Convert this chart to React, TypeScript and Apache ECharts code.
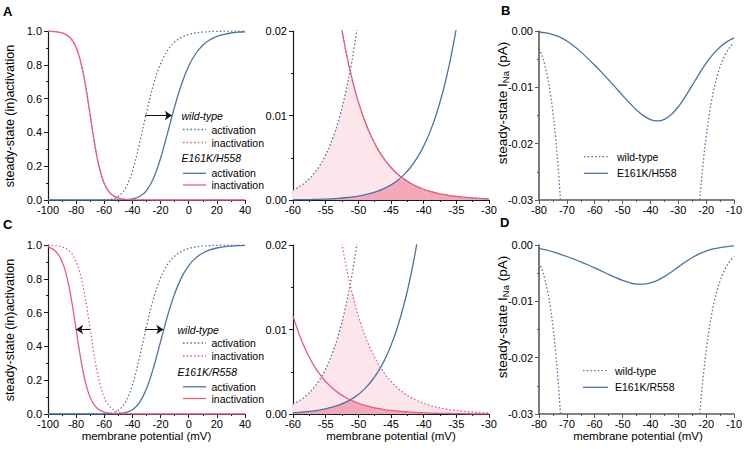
import React, { useEffect, useRef } from 'react';
import * as echarts from 'echarts';

// ---------- Left panels (A, C): steady-state (in)activation vs membrane potential ----------
const leftV = [-100, -95, -90, -85, -80, -75, -70, -65, -60, -55, -50, -45, -40, -35, -30, -25, -20, -15, -10, -5, 0, 5, 10, 15, 20, 25, 30, 35, 40];
const wtAct = [0, 0, 0, 0, 0.000001, 0.000007, 0.00004, 0.00023, 0.00115, 0.00534, 0.02124, 0.06852, 0.17193, 0.33385, 0.51924, 0.68389, 0.80573, 0.8857, 0.93452, 0.96305, 0.97934, 0.98851, 0.99363, 0.99647, 0.99804, 0.99892, 0.9994, 0.99967, 0.99982];
const h558Act = [0, 0, 0, 0, 0, 0, 0.000001, 0.000006, 0.000027, 0.00011, 0.00046, 0.00179, 0.00638, 0.02032, 0.05585, 0.12879, 0.24667, 0.39715, 0.55245, 0.6882, 0.79282, 0.8668, 0.91621, 0.94802, 0.96803, 0.98045, 0.98808, 0.99274, 0.99559];
const r558Act = [0, 0, 0, 0, 0, 0.000002, 0.000008, 0.000036, 0.00015, 0.00061, 0.00232, 0.00812, 0.0252, 0.06699, 0.14885, 0.2749, 0.42864, 0.58175, 0.71172, 0.80992, 0.87842, 0.92377, 0.95281, 0.97101, 0.98228, 0.98921, 0.99344, 0.99601, 0.99758];

const inactV = [-100, -97.5, -95, -92.5, -90, -87.5, -85, -82.5, -80, -77.5, -75, -72.5, -70, -67.5, -65, -62.5, -60, -57.5, -55, -52.5, -50, -47.5, -45, -42.5, -40, -20, 0, 20, 40];
const wtInact = [0.99873, 0.99779, 0.99615, 0.99331, 0.98839, 0.97994, 0.96555, 0.94146, 0.90224, 0.84112, 0.75234, 0.63542, 0.5, 0.36458, 0.24766, 0.15888, 0.09777, 0.05854, 0.03445, 0.02006, 0.01161, 0.00669, 0.00385, 0.00221, 0.00127, 0.00001, 0, 0, 0];
const r558Inact = [0.98839, 0.97994, 0.96555, 0.94146, 0.90224, 0.84112, 0.75234, 0.63542, 0.5, 0.36458, 0.24766, 0.15888, 0.09777, 0.05854, 0.03445, 0.02006, 0.01161, 0.00669, 0.00385, 0.00221, 0.00127, 0.00073, 0.00042, 0.00024, 0.00014, 0, 0, 0, 0];

// shift arrows at half (in)activation
const halfLevel = 0.5;
const arrowA = [-31, -12];
const arrowCAct = [-31, -18];
const arrowCInact = [-70, -80];

// ---------- Middle panels: window region zoom ----------
const midV = [-60, -59, -58, -57, -56, -55, -54, -53, -52, -51, -50, -49, -48, -47, -46, -45, -44, -43, -42, -41, -40, -39, -38, -37, -36, -35, -34, -33, -32, -31, -30];
const midWtAct = [0.0011524, 0.0015809, 0.0021593, 0.0029355, 0.00397, 0.0053391, 0.007137, 0.0094777, 0.012498, 0.016358, 0.02124, 0.027347, 0.034899, 0.044126, 0.05526, 0.06852, 0.0841, 0.10216, 0.1228, 0.14607, 0.17193, 0.20028, 0.23093, 0.26363, 0.29806, 0.33385, 0.37062, 0.40793, 0.44541, 0.48264, 0.51927];
const midH558Act = [0.000026694, 0.000035696, 0.000047686, 0.000063641, 0.000084829, 0.00011294, 0.00015014, 0.00019933, 0.00026416, 0.00034947, 0.00046143, 0.00060786, 0.00079899, 0.0010476, 0.0013697, 0.0017856, 0.0023204, 0.003005, 0.0038769, 0.0049823, 0.0063758, 0.0081218, 0.010296, 0.012986, 0.016292, 0.020321, 0.0252, 0.031053, 0.038021, 0.046244, 0.055852];
const midR558Act = [0.00015014, 0.00019933, 0.00026416, 0.00034947, 0.00046143, 0.00060786, 0.00079899, 0.0010476, 0.0013697, 0.0017856, 0.0023204, 0.003005, 0.0038769, 0.0049823, 0.0063758, 0.0081218, 0.010296, 0.012986, 0.016292, 0.020321, 0.0252, 0.031053, 0.038021, 0.046244, 0.055852, 0.066984, 0.079757, 0.094269, 0.110595, 0.128788, 0.148847];
const midWtInact = [0.097773, 0.079845, 0.064969, 0.052705, 0.042651, 0.034445, 0.027772, 0.022362, 0.017986, 0.014454, 0.011607, 0.0093159, 0.0074735, 0.0059933, 0.0048048, 0.003851, 0.003086, 0.0024726, 0.0019809, 0.0015868, 0.001271, 0.001018, 0.00081533, 0.00065295, 0.00052293, 0.00041878, 0.00033536, 0.00026855, 0.00021505, 0.0001722, 0.00013789];
const midR558Inact = [0.011607, 0.0093159, 0.0074735, 0.0059933, 0.0048048, 0.003851, 0.003086, 0.0024726, 0.0019809, 0.0015868, 0.001271, 0.001018, 0.00081533, 0.00065295, 0.00052293, 0.00041878, 0.00033536, 0.00026855, 0.00021505, 0.0001722, 0.00013789, 0.00011042, 0.00008842, 0.0000708, 0.0000567, 0.0000454, 0.00003635, 0.00002911, 0.00002331, 0.00001866, 0.00001495];

// ---------- Right panels (B, D): steady-state window current ----------
const curV = [-80, -77.5, -75, -72.5, -70, -67.5, -65, -62.5, -60, -57.5, -55, -52.5, -50, -47.5, -45, -42.5, -40, -37.5, -35, -32.5, -30, -27.5, -25, -22.5, -20, -17.5, -15, -12.5, -10];
const h558Current = [-0.000175, -0.000339, -0.000627, -0.001094, -0.001775, -0.002661, -0.003706, -0.004856, -0.006076, -0.007352, -0.008679, -0.010047, -0.011429, -0.012774, -0.014007, -0.015026, -0.015721, -0.015971, -0.015684, -0.01483, -0.013447, -0.011658, -0.009641, -0.007604, -0.005721, -0.004117, -0.002843, -0.00189, -0.001215];
const r558Current = [-0.000582, -0.000877, -0.001228, -0.001619, -0.002042, -0.002496, -0.002982, -0.003503, -0.004057, -0.004636, -0.005223, -0.005787, -0.006294, -0.006692, -0.006928, -0.006955, -0.006741, -0.006281, -0.005605, -0.004778, -0.003884, -0.003012, -0.00223, -0.001581, -0.001077, -0.000708, -0.000451, -0.00028, -0.00017];
const wtCurLeftV = [-80, -79, -78, -77, -76, -75, -74, -73, -72];
const wtCurLeft = [-0.003117, -0.004293, -0.005879, -0.007996, -0.010792, -0.014438, -0.01912, -0.025042, -0.032401];
const wtCurRightV = [-23, -22, -21, -20, -19, -18, -17, -16, -15, -14, -13, -12, -11, -10];
const wtCurRight = [-0.034595, -0.02827, -0.023022, -0.018689, -0.015127, -0.012213, -0.009836, -0.007905, -0.00634, -0.005076, -0.004058, -0.003239, -0.002582, -0.002055];

// ---------- Text ----------
const xTitle = 'membrane potential (mV)';
const yTitleLeft = 'steady-state (in)activation';
const legendWT = 'wild-type';
const mutantA = 'E161K/H558';
const mutantC = 'E161K/R558';
const panelLetters = ['A', 'B', 'C', 'D'];

const BLUE = '#4a73a6';
const RED = '#e0607d';
const FILL_LIGHT = '#fde5ec';
const FILL_DARK = '#f4a9ba';
const INK = '#000000';
const FONT = '"Liberation Sans", Arial, Helvetica, sans-serif';
const DOT = [1.5, 2.2];

const pairs = (xs: number[], ys: number[]) => xs.map((x, i) => [x, ys[i]]);
const clipPairs = (xs: number[], ys: number[], hi: number) => {
  const ok = (v: number | undefined) => v !== undefined && v <= hi;
  return xs.map((x, i) => [x, ys[i]]).filter((_, i) => ok(ys[i]) || ok(ys[i - 1]) || ok(ys[i + 1]));
};
const minPairs = (xs: number[], a: number[], b: number[]) => xs.map((x, i) => [x, Math.min(a[i], b[i])]);

function lineSeries(gi: number, data: number[][], color: string, dotted: boolean, extra: any = {}) {
  return {
    type: 'line',
    xAxisIndex: gi,
    yAxisIndex: gi,
    data,
    symbol: 'none',
    showSymbol: false,
    smooth: 0.35,
    clip: true,
    silent: true,
    lineStyle: { color, width: 1.3, type: dotted ? DOT : 'solid', cap: 'butt' },
    z: 3,
    ...extra,
  };
}

function areaSeries(gi: number, data: number[][], color: string, z: number) {
  return {
    type: 'line',
    xAxisIndex: gi,
    yAxisIndex: gi,
    data,
    symbol: 'none',
    showSymbol: false,
    smooth: 0.35,
    clip: true,
    silent: true,
    lineStyle: { width: 0, opacity: 0 },
    areaStyle: { color, opacity: 1 },
    z,
  };
}

function arrowMark(list: number[][]) {
  return {
    silent: true,
    symbol: ['none', 'arrow'],
    symbolSize: 7,
    label: { show: false },
    lineStyle: { color: '#111', width: 1, type: 'solid' },
    emphasis: { disabled: true },
    data: list.map(([a, b]) => [{ coord: [a, halfLevel] }, { coord: [b, halfLevel] }]),
  };
}

function xAxis(gi: number, min: number, max: number, interval: number, axisColor: string, axisWidth: number) {
  return {
    type: 'value',
    gridIndex: gi,
    min,
    max,
    interval,
    axisLine: { show: true, onZero: false, lineStyle: { color: axisColor, width: axisWidth } },
    axisTick: { show: true, inside: false, length: 4, lineStyle: { color: axisColor, width: 1 } },
    minorTick: { show: true, splitNumber: 2, length: 2, lineStyle: { color: axisColor, width: 1 } },
    splitLine: { show: false },
    minorSplitLine: { show: false },
    axisLabel: { color: INK, fontSize: 11, fontFamily: FONT, margin: 4, showMinLabel: true, showMaxLabel: true },
  };
}

function yAxis(gi: number, min: number, max: number, interval: number, digits: number, axisColor: string, axisWidth: number) {
  return {
    type: 'value',
    gridIndex: gi,
    min,
    max,
    interval,
    axisLine: { show: true, onZero: false, lineStyle: { color: axisColor, width: axisWidth } },
    axisTick: { show: true, inside: false, length: 4, lineStyle: { color: axisColor, width: 1 } },
    minorTick: { show: true, splitNumber: 2, length: 2, lineStyle: { color: axisColor, width: 1 } },
    splitLine: { show: false },
    minorSplitLine: { show: false },
    axisLabel: {
      color: INK,
      fontSize: 11,
      fontFamily: FONT,
      margin: 6,
      formatter: (v: number) => (Math.abs(v) < 1e-12 ? 0 : v).toFixed(digits),
    },
  };
}

function legendBlock(x: number, y0: number, title: string, dy: number[]) {
  const t = (text: string, tx: number, ty: number, italic = false) => ({
    type: 'text',
    x: tx,
    y: ty,
    silent: true,
    style: { text, fontSize: 10.5, fontFamily: FONT, fontStyle: italic ? 'italic' : 'normal', fill: INK, align: 'left', verticalAlign: 'middle' },
  });
  const l = (ly: number, color: string, dotted: boolean) => ({
    type: 'line',
    silent: true,
    shape: { x1: 183, y1: ly, x2: 206, y2: ly },
    style: { stroke: color, lineWidth: 1.3, lineDash: dotted ? DOT : null },
  });
  return [
    t(legendWT, x, y0 + dy[0], true),
    l(y0 + dy[1], BLUE, true),
    t('activation', 211.5, y0 + dy[1]),
    l(y0 + dy[2], RED, true),
    t('inactivation', 211.5, y0 + dy[2]),
    t(title, x, y0 + dy[3], true),
    l(y0 + dy[4], BLUE, false),
    t('activation', 211.5, y0 + dy[4]),
    l(y0 + dy[5], RED, false),
    t('inactivation', 211.5, y0 + dy[5]),
  ];
}

function currentLegend(x1: number, x2: number, tx: number, y1: number, y2: number, mutant: string) {
  return [
    { type: 'line', silent: true, shape: { x1, y1, x2, y2: y1 }, style: { stroke: BLUE, lineWidth: 1.3, lineDash: DOT } },
    { type: 'text', x: tx, y: y1, silent: true, style: { text: legendWT, fontSize: 10.5, fontFamily: FONT, fill: INK, align: 'left', verticalAlign: 'middle' } },
    { type: 'line', silent: true, shape: { x1, y1: y2, x2, y2 }, style: { stroke: BLUE, lineWidth: 1.3 } },
    { type: 'text', x: tx, y: y2, silent: true, style: { text: mutant, fontSize: 10.5, fontFamily: FONT, fill: INK, align: 'left', verticalAlign: 'middle' } },
  ];
}

function rotatedTitle(x: number, y: number, rich: boolean, text: string) {
  return {
    type: 'text',
    x,
    y,
    rotation: Math.PI / 2,
    silent: true,
    style: rich
      ? {
          text: '{a|steady-state I}{b|Na}{a| (pA)}',
          align: 'center',
          verticalAlign: 'middle',
          fill: INK,
          rich: {
            a: { fontSize: 13.5, fontFamily: FONT, fill: INK, lineHeight: 16 },
            b: { fontSize: 9.5, fontFamily: FONT, fill: INK, lineHeight: 11, verticalAlign: 'bottom', padding: [9, 0, 0, 0] },
          },
        }
      : { text, fontSize: 12.5, fontFamily: FONT, fill: INK, align: 'center', verticalAlign: 'middle' },
  };
}

function bottomTitle(x: number) {
  return {
    type: 'text',
    x,
    y: 436,
    silent: true,
    style: { text: xTitle, fontSize: 11.5, fontFamily: FONT, fill: INK, align: 'center', verticalAlign: 'middle' },
  };
}

function letter(text: string, x: number, y: number) {
  return {
    type: 'text',
    x,
    y,
    silent: true,
    style: { text, fontSize: 13, fontWeight: 'bold', fontFamily: FONT, fill: '#000', align: 'left', verticalAlign: 'middle' },
  };
}

export default function App() {
  const ref = useRef<HTMLDivElement>(null);

  useEffect(() => {
    if (!ref.current) return;
    const chart = echarts.init(ref.current, undefined, { renderer: 'svg' });

    const dark = '#1a1a1a';
    const grey = '#5a5a5a';

    const option: any = {
      animation: false,
      backgroundColor: '#ffffff',
      grid: [
        { left: 48, top: 31, width: 197, height: 169 },
        { left: 293, top: 31, width: 196, height: 169 },
        { left: 539, top: 31, width: 198, height: 169 },
        { left: 48, top: 245, width: 197, height: 169 },
        { left: 293, top: 245, width: 196, height: 169 },
        { left: 539, top: 245, width: 198, height: 169 },
      ],
      xAxis: [
        xAxis(0, -100, 40, 20, dark, 1.2),
        xAxis(1, -60, -30, 5, dark, 1.2),
        xAxis(2, -80, -10, 10, grey, 1.6),
        xAxis(3, -100, 40, 20, dark, 1.2),
        xAxis(4, -60, -30, 5, dark, 1.2),
        xAxis(5, -80, -10, 10, grey, 1.6),
      ],
      yAxis: [
        yAxis(0, 0, 1, 0.2, 1, dark, 1.2),
        yAxis(1, 0, 0.02, 0.01, 2, dark, 1.2),
        yAxis(2, -0.03, 0, 0.01, 2, grey, 1.6),
        yAxis(3, 0, 1, 0.2, 1, dark, 1.2),
        yAxis(4, 0, 0.02, 0.01, 2, dark, 1.2),
        yAxis(5, -0.03, 0, 0.01, 2, grey, 1.6),
      ],
      series: [
        // ---- A left ----
        lineSeries(0, pairs(leftV, wtAct), BLUE, true),
        lineSeries(0, pairs(leftV, h558Act), BLUE, false, { markLine: arrowMark([arrowA]) }),
        lineSeries(0, pairs(inactV, wtInact), RED, true),
        lineSeries(0, pairs(inactV, wtInact), RED, false, { z: 4 }),

        // ---- A middle ----
        areaSeries(1, minPairs(midV, midWtAct, midWtInact), FILL_LIGHT, 1),
        areaSeries(1, minPairs(midV, midH558Act, midWtInact), FILL_DARK, 2),
        lineSeries(1, clipPairs(midV, midWtAct, 0.02), BLUE, true),
        lineSeries(1, clipPairs(midV, midH558Act, 0.02), BLUE, false),
        lineSeries(1, clipPairs(midV, midWtInact, 0.02), RED, true),
        lineSeries(1, clipPairs(midV, midWtInact, 0.02), RED, false, { z: 4 }),

        // ---- B ----
        lineSeries(2, pairs(wtCurLeftV, wtCurLeft), BLUE, true),
        lineSeries(2, pairs(wtCurRightV, wtCurRight), BLUE, true),
        lineSeries(2, pairs(curV, h558Current), BLUE, false),

        // ---- C left ----
        lineSeries(3, pairs(leftV, wtAct), BLUE, true),
        lineSeries(3, pairs(leftV, r558Act), BLUE, false, { markLine: arrowMark([arrowCAct, arrowCInact]) }),
        lineSeries(3, pairs(inactV, wtInact), RED, true),
        lineSeries(3, pairs(inactV, r558Inact), RED, false, { z: 4 }),

        // ---- C middle ----
        areaSeries(4, minPairs(midV, midWtAct, midWtInact), FILL_LIGHT, 1),
        areaSeries(4, minPairs(midV, midR558Act, midR558Inact), FILL_DARK, 2),
        lineSeries(4, clipPairs(midV, midWtAct, 0.02), BLUE, true),
        lineSeries(4, clipPairs(midV, midWtInact, 0.02), RED, true),
        lineSeries(4, clipPairs(midV, midR558Act, 0.02), BLUE, false),
        lineSeries(4, clipPairs(midV, midR558Inact, 0.02), RED, false, { z: 4 }),

        // ---- D ----
        lineSeries(5, pairs(wtCurLeftV, wtCurLeft), BLUE, true),
        lineSeries(5, pairs(wtCurRightV, wtCurRight), BLUE, true),
        lineSeries(5, pairs(curV, r558Current), BLUE, false),
      ],
      graphic: [
        letter(panelLetters[0], 3, 11.5),
        letter(panelLetters[1], 501, 10.5),
        letter(panelLetters[2], 3, 224),
        letter(panelLetters[3], 500, 222),
        rotatedTitle(10, 116, false, yTitleLeft),
        rotatedTitle(10, 330, false, yTitleLeft),
        rotatedTitle(502, 103, true, ''),
        rotatedTitle(502, 317, true, ''),
        bottomTitle(146.5),
        bottomTitle(391),
        bottomTitle(638),
        ...legendBlock(181.5, 0, mutantA, [116, 129.5, 142.5, 158, 173.3, 185]),
        ...legendBlock(177.5, 213.5, mutantC, [116, 129.5, 142.5, 158, 173.3, 185]),
        ...currentLegend(584, 608, 617, 156.7, 173.3, mutantA),
        ...currentLegend(583, 608, 615, 370.7, 387.3, mutantC),
      ],
    };

    chart.setOption(option);
    return () => chart.dispose();
  }, []);

  return <div ref={ref} style={{ position: 'absolute', left: 0, top: 0, width: 745, height: 449, background: '#fff' }} />;
}
